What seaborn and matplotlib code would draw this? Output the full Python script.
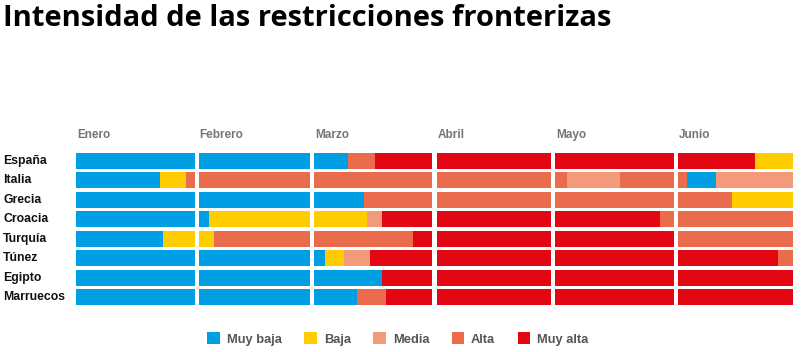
import matplotlib
matplotlib.use("Agg")
import matplotlib.pyplot as plt
from matplotlib.patches import Patch
import seaborn as sns

sns.set_theme(style="white")
plt.rcParams['font.family'] = ['Liberation Sans', 'DejaVu Sans']

# ---- data ----
months = ["Enero", "Febrero", "Marzo", "Abril", "Mayo", "Junio"]
month_days = [31, 29, 31, 30, 31, 30]
levels = ["Muy baja", "Baja", "Media", "Alta", "Muy alta"]
level_colors = ["#009FE3", "#FFCC00", "#F39A7B", "#EB6B4D", "#E30613"]
countries = ["España", "Italia", "Grecia", "Croacia", "Turquía", "Túnez", "Egipto", "Marruecos"]

# transitions per country: (month, day within month where the level starts, level)
espana = [("Enero", 0, "Muy baja"), ("Marzo", 9, "Alta"), ("Marzo", 16, "Muy alta"), ("Junio", 20, "Baja")]
italia = [("Enero", 0, "Muy baja"), ("Enero", 22, "Baja"), ("Enero", 28.7, "Alta"), ("Mayo", 3, "Media"),
          ("Mayo", 17, "Alta"), ("Junio", 2.2, "Muy baja"), ("Junio", 10, "Media")]
grecia = [("Enero", 0, "Muy baja"), ("Marzo", 13, "Alta"), ("Junio", 14, "Baja")]
croacia = [("Enero", 0, "Muy baja"), ("Febrero", 2.7, "Baja"), ("Marzo", 14, "Media"), ("Marzo", 17.8, "Muy alta"),
           ("Mayo", 27.2, "Alta")]
turquia = [("Enero", 0, "Muy baja"), ("Enero", 22.7, "Baja"), ("Febrero", 3.9, "Alta"), ("Marzo", 26, "Muy alta"),
           ("Junio", 0, "Alta")]
tunez = [("Enero", 0, "Muy baja"), ("Marzo", 2.8, "Baja"), ("Marzo", 8, "Media"), ("Marzo", 14.8, "Muy alta"),
         ("Junio", 26, "Alta")]
egipto = [("Enero", 0, "Muy baja"), ("Marzo", 17.8, "Muy alta")]
marruecos = [("Enero", 0, "Muy baja"), ("Marzo", 11.4, "Alta"), ("Marzo", 18.9, "Muy alta")]
transitions = [espana, italia, grecia, croacia, turquia, tunez, egipto, marruecos]

# ---- layout ----
W, H = 805, 352
fig = plt.figure(figsize=(W / 100, H / 100), dpi=100)
row_px = 19.43
ax_top_px = 161 - 0.5 * row_px
ax_h_px = 8 * row_px
ax = fig.add_axes([76 / W, 1 - (ax_top_px + ax_h_px) / H, (793 - 76) / W, ax_h_px / H])

gap = 1.05
month_start = []
acc = 0
for d in month_days:
    month_start.append(acc)
    acc += d
total_days = acc
xmax = total_days + gap * (len(months) - 1)

color_of = dict(zip(levels, level_colors))

for r, trans in enumerate(transitions):
    pts = [(month_start[months.index(m)] + d, lvl) for m, d, lvl in trans]
    pts.append((total_days, None))
    for (s, lvl), (e, _) in zip(pts[:-1], pts[1:]):
        # split at month boundaries
        for mi, ms in enumerate(month_start):
            me = ms + month_days[mi]
            a, b = max(s, ms), min(e, me)
            if b > a:
                ax.barh(r, b - a, left=a + mi * gap, height=0.82,
                        color=color_of[lvl], linewidth=0)

ax.set_xlim(0, xmax)
ax.set_ylim(7.5, -0.5)
ax.set_xticks([])
ax.set_yticks([])
for s in ax.spines.values():
    s.set_visible(False)
ax.set_facecolor("white")

# month labels
trans_mix = ax.get_xaxis_transform()
for mi, m in enumerate(months):
    x0 = month_start[mi] + mi * gap
    xf = fig.transFigure.inverted().transform(ax.transData.transform((x0, 0)))[0]
    fig.text(xf + 1 / W, 1 - 135 / H, m, ha="left", va="center",
             fontsize=8.5, fontweight="bold", color="#757575")

# country labels
for r, c in enumerate(countries):
    fig.text(3 / W, 1 - (161 + r * row_px) / H, c, ha="left", va="center",
             fontsize=8.8, fontweight="bold", color="#111111")

# title
fig.text(3 / W, 1 - 18 / H, "Intensidad de las restricciones fronterizas", ha="left", va="center",
         fontsize=21, fontweight="bold", color="black", family=["Open Sans", "DejaVu Sans"])

handles = [Patch(facecolor=c, edgecolor="none", label=l) for l, c in zip(levels, level_colors)]
fig.legend(handles=handles, loc="center", bbox_to_anchor=(398 / W, 1 - 339 / H), ncol=5,
           frameon=False, handlelength=0.95, handleheight=0.95, handletextpad=0.55,
           columnspacing=1.75, labelcolor="#555555",
           prop={"weight": "bold", "size": 9.3, "family": "Liberation Sans"})

fig.savefig("out.png", dpi=100, facecolor="white")
